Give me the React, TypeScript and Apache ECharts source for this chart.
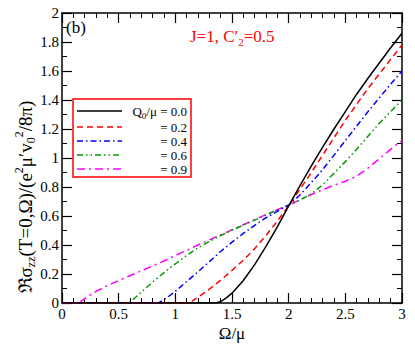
import React, { useEffect, useRef } from "react";
import * as echarts from "echarts";

// ---- data ----
const seriesLabels = ["0.0", "0.2", "0.4", "0.6", "0.9"];

const x00 = [0, 1.36, 1.4, 1.45, 1.5, 1.6, 1.7, 1.8, 1.9, 2.0, 2.1, 2.2, 2.3, 2.4, 2.5, 2.6, 2.7, 2.8, 2.9, 3.0];
const y00 = [0, 0, 0.01, 0.035, 0.068, 0.155, 0.265, 0.39, 0.525, 0.67, 0.81, 0.945, 1.075, 1.2, 1.32, 1.44, 1.55, 1.655, 1.76, 1.86];

const x02 = [0, 1.11, 1.15, 1.2, 1.3, 1.4, 1.5, 1.6, 1.7, 1.8, 1.9, 2.0, 2.1, 2.2, 2.3, 2.4, 2.5, 2.6, 2.7, 2.8, 2.9, 3.0];
const y02 = [0, 0, 0.015, 0.04, 0.095, 0.158, 0.225, 0.295, 0.375, 0.465, 0.565, 0.67, 0.785, 0.9, 1.02, 1.14, 1.26, 1.37, 1.48, 1.58, 1.68, 1.78];

const x04 = [0, 0.85, 0.9, 1.0, 1.1, 1.2, 1.3, 1.4, 1.5, 1.6, 1.7, 1.8, 1.9, 2.0, 2.1, 2.2, 2.3, 2.4, 2.5, 2.6, 2.7, 2.8, 2.9, 3.0];
const y04 = [0, 0, 0.022, 0.08, 0.148, 0.215, 0.285, 0.355, 0.42, 0.48, 0.535, 0.588, 0.632, 0.675, 0.745, 0.83, 0.92, 1.02, 1.12, 1.22, 1.32, 1.415, 1.51, 1.6];

const x06 = [0, 0.59, 0.65, 0.7, 0.8, 0.9, 1.0, 1.1, 1.2, 1.3, 1.4, 1.5, 1.6, 1.7, 1.8, 1.9, 2.0, 2.1, 2.2, 2.3, 2.4, 2.5, 2.6, 2.7, 2.8, 2.9, 3.0];
const y06 = [0, 0, 0.04, 0.075, 0.145, 0.21, 0.27, 0.328, 0.38, 0.425, 0.465, 0.502, 0.537, 0.572, 0.607, 0.642, 0.675, 0.71, 0.752, 0.815, 0.895, 0.975, 1.06, 1.15, 1.24, 1.32, 1.4];

const x09 = [0, 0.15, 0.2, 0.3, 0.4, 0.5, 0.6, 0.7, 0.8, 0.9, 1.0, 1.1, 1.2, 1.3, 1.4, 1.5, 1.6, 1.7, 1.8, 1.9, 2.0, 2.1, 2.2, 2.3, 2.4, 2.5, 2.6, 2.7, 2.8, 2.9, 3.0];
const y09 = [0, 0, 0.03, 0.08, 0.12, 0.155, 0.188, 0.222, 0.256, 0.29, 0.327, 0.363, 0.4, 0.435, 0.47, 0.505, 0.54, 0.575, 0.61, 0.643, 0.675, 0.712, 0.748, 0.782, 0.812, 0.84, 0.875, 0.93, 0.995, 1.06, 1.12];

const xTickInterval = 0.5;
const yTickInterval = 0.2;

const FONT = "Liberation Serif";
const colors = ["#000000", "#ff0000", "#0000ff", "#009900", "#ff00ff"];
const dashes: any[] = ["solid", [6, 4], [6, 3, 1.5, 3], [6, 3, 1.5, 3, 1.5, 3], [8, 4, 2, 4]];

function pairs(xs: number[], ys: number[]) {
  return xs.map((x, i) => [x, ys[i]]);
}

export default function App() {
  const ref = useRef<HTMLDivElement>(null);
  useEffect(() => {
    if (!ref.current) return;
    const chart = echarts.init(ref.current, undefined, { renderer: "svg" });
    const allData = [pairs(x00, y00), pairs(x02, y02), pairs(x04, y04), pairs(x06, y06), pairs(x09, y09)];

    const axisCommon = {
      type: "value" as const,
      axisLine: { show: true, onZero: false, lineStyle: { color: "#000", width: 1.5 } },
      axisTick: { show: true, inside: true, length: 10, lineStyle: { color: "#000", width: 1.2 } },
      splitLine: { show: false },
    };
    const tickLabel = {
      color: "#000",
      fontFamily: FONT,
      fontSize: 15,
      margin: 3,
      fontWeight: "normal" as const,
    };

    const legendTop = 99;
    const rowY = [111, 127, 141, 155, 169];
    const graphic: any[] = [
      {
        type: "rect",
        shape: { x: 73, y: legendTop, width: 118, height: 78 },
        style: { fill: "#fff", stroke: "#ff0000", lineWidth: 1.5 },
        z: 100,
      },
    ];
    rowY.forEach((y, i) => {
      graphic.push({
        type: "line",
        shape: { x1: 77, y1: y, x2: 122, y2: y },
        style: { stroke: colors[i], lineWidth: 1.5, lineDash: dashes[i] === "solid" ? null : dashes[i] },
        z: 101,
      });
      graphic.push({
        type: "text",
        x: 187,
        y: y,
        style: {
          text: i === 0 ? "{n|Q}{s|0}{n|/μ = " + seriesLabels[i] + "}" : "{n|= " + seriesLabels[i] + "}",
          align: "right",
          verticalAlign: "middle",
          rich: {
            n: { fontFamily: FONT, fontSize: 13, fill: "#000", lineHeight: 18, verticalAlign: "middle" },
            s: { fontFamily: FONT, fontSize: 9, fill: "#000", lineHeight: 9, verticalAlign: "bottom" },
          },
        },
        z: 101,
      });
    });
    graphic.push({
      type: "text",
      x: 66,
      y: 27,
      style: { text: "(b)", fontFamily: FONT, fontSize: 17, fill: "#000", verticalAlign: "middle" },
      z: 101,
    });
    graphic.push({
      type: "text",
      x: 190,
      y: 36,
      style: {
        text: "{n|J=1, C′}{s|2}{n|=0.5}",
        verticalAlign: "middle",
        rich: {
          n: { fontFamily: FONT, fontSize: 17, fill: "#ff0000", lineHeight: 22, verticalAlign: "middle" },
          s: { fontFamily: FONT, fontSize: 11, fill: "#ff0000", lineHeight: 11, verticalAlign: "bottom" },
        },
      },
      z: 101,
    });
    graphic.push({
      type: "text",
      x: 232,
      y: 333,
      style: { text: "Ω/μ", fontFamily: FONT, fontSize: 17, fill: "#000", align: "center", verticalAlign: "middle" },
      z: 101,
    });
    graphic.push({
      type: "text",
      x: 25,
      y: 197,
      rotation: Math.PI / 2,
      style: {
        text: "{n|ℜσ}{s|zz}{n|(T=0,Ω)/(e}{u|2}{n|μ′v}{s|0}{u|2}{n|/8π)}",
        align: "center",
        verticalAlign: "middle",
        rich: {
          n: { fontFamily: FONT, fontSize: 19, fill: "#000", lineHeight: 24, verticalAlign: "middle" },
          s: { fontFamily: FONT, fontSize: 12, fill: "#000", lineHeight: 12, verticalAlign: "bottom" },
          u: { fontFamily: FONT, fontSize: 12, fill: "#000", lineHeight: 12, verticalAlign: "top" },
        },
      },
      z: 101,
    });

    chart.setOption({
      animation: false,
      backgroundColor: "#fff",
      textStyle: { fontFamily: FONT },
      grid: { left: 62, right: 13, top: 13, bottom: 43, containLabel: false },
      xAxis: [
        {
          ...axisCommon,
          min: 0,
          max: 3,
          interval: xTickInterval,
          position: "bottom",
          minorTick: { show: true, splitNumber: 5, length: 5, lineStyle: { color: "#000", width: 1 } },
          axisLabel: tickLabel,
        },
        {
          ...axisCommon,
          min: 0,
          max: 3,
          interval: xTickInterval,
          position: "top",
          minorTick: { show: true, splitNumber: 5, length: 5, lineStyle: { color: "#000", width: 1 } },
          axisLabel: { show: false },
        },
      ],
      yAxis: [
        {
          ...axisCommon,
          min: 0,
          max: 2,
          interval: yTickInterval,
          position: "left",
          minorTick: { show: true, splitNumber: 2, length: 5, lineStyle: { color: "#000", width: 1 } },
          axisLabel: tickLabel,
        },
        {
          ...axisCommon,
          min: 0,
          max: 2,
          interval: yTickInterval,
          position: "right",
          minorTick: { show: true, splitNumber: 2, length: 5, lineStyle: { color: "#000", width: 1 } },
          axisLabel: { show: false },
        },
      ],
      series: allData.map((d, i) => ({
        type: "line",
        name: seriesLabels[i],
        xAxisIndex: 0,
        yAxisIndex: 0,
        data: d,
        showSymbol: false,
        symbol: "none",
        smooth: false,
        lineStyle: { color: colors[i], width: 1.5, type: dashes[i] },
        z: 7 - i,
      })),
      graphic,
    });
    return () => chart.dispose();
  }, []);
  return <div ref={ref} style={{ position: "fixed", left: 0, top: 0, width: 415, height: 346 }} />;
}
